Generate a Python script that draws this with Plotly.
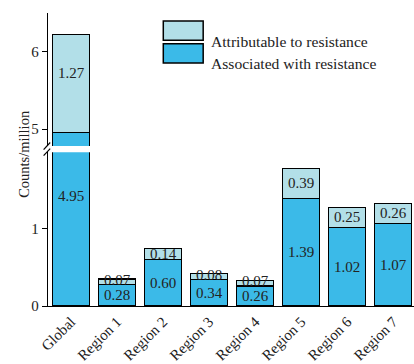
import plotly.graph_objects as go

categories = ["Global", "Region 1", "Region 2", "Region 3", "Region 4", "Region 5", "Region 6", "Region 7"]
associated = [4.95, 0.28, 0.60, 0.34, 0.26, 1.39, 1.02, 1.07]
attributable = [1.27, 0.07, 0.14, 0.08, 0.07, 0.39, 0.25, 0.26]
series_names = ["Attributable to resistance", "Associated with resistance"]

C_ATTR = "#B2DFE8"
C_ASSOC = "#3BBAE8"
FONT = "Liberation Serif"
TXT = "#222222"

LOW_RANGE = [0, 1.99]
UP_RANGE = [4.78, 6.5]
LOW_DOM = [0, 0.525]
UP_DOM = [0.546, 1]

fig = go.Figure()
line = dict(color="black", width=1.2)
for yax in ["y", "y2"]:
    fig.add_trace(go.Bar(x=categories, y=associated, name=series_names[1], yaxis=yax,
                         marker=dict(color=C_ASSOC, line=line), width=0.8, showlegend=False,
                         hoverinfo="skip"))
    fig.add_trace(go.Bar(x=categories, y=attributable, name=series_names[0], yaxis=yax,
                         marker=dict(color=C_ATTR, line=line), width=0.8, showlegend=False,
                         hoverinfo="skip"))

annotations = []
for i, c in enumerate(categories):
    a, b = associated[i], attributable[i]
    if a > LOW_RANGE[1]:
        annotations.append(dict(x=c, y=LOW_RANGE[1] * 0.715, yref="y", text=f"{a:.2f}", showarrow=False))
        annotations.append(dict(x=c, y=a + b / 2, yref="y2", text=f"{b:.2f}", showarrow=False, yshift=11))
    else:
        annotations.append(dict(x=c, y=a / 2, yref="y", text=f"{a:.2f}", showarrow=False))
        annotations.append(dict(x=c, y=a + b / 2, yref="y", text=f"{b:.2f}", showarrow=False,
                                yshift=2 if b < 0.1 else 0))
for an in annotations:
    an["xref"] = "x"
    an["font"] = dict(family=FONT, size=15, color=TXT)

annotations.append(dict(x=-0.095, y=0.52, xref="paper", yref="paper", text="Counts/million",
                        textangle=-90, showarrow=False, font=dict(family=FONT, size=14.5, color=TXT)))

shapes = []
leg_items = [(series_names[0], C_ATTR, 0.94), (series_names[1], C_ASSOC, 0.862)]
for name, col, yc in leg_items:
    shapes.append(dict(type="rect", xref="paper", yref="paper", x0=0.315, x1=0.424,
                       y0=yc - 0.033, y1=yc + 0.033, fillcolor=col, line=dict(color="black", width=1.5)))
    annotations.append(dict(x=0.441, y=yc, xref="paper", yref="paper", text=name, showarrow=False,
                            xanchor="left", font=dict(family=FONT, size=15.6, color=TXT)))

for y0 in [UP_DOM[0], LOW_DOM[1]]:
    shapes.append(dict(type="line", xref="paper", yref="paper", x0=-0.012, x1=0.006,
                       y0=y0 - 0.012, y1=y0 + 0.012, line=dict(color="black", width=1.2)))

fig.update_layout(
    width=414, height=364,
    margin=dict(l=48, r=0, t=13, b=56),
    barmode="stack",
    plot_bgcolor="white", paper_bgcolor="white",
    font=dict(family=FONT, size=14, color=TXT),
    xaxis=dict(range=[-0.5, 7.45], showline=True, linecolor="black", linewidth=1.3,
               ticks="", tickangle=-45, tickfont=dict(family=FONT, size=15, color=TXT),
               showgrid=False, zeroline=False, anchor="y"),
    yaxis=dict(domain=LOW_DOM, range=LOW_RANGE, tickvals=[0, 1], showline=True, linecolor="black",
               linewidth=1.3, ticks="outside", ticklen=5, tickcolor="black", showgrid=False,
               zeroline=False, tickfont=dict(family=FONT, size=15, color=TXT)),
    yaxis2=dict(domain=UP_DOM, range=UP_RANGE, tickvals=[5, 6], showline=True, linecolor="black",
                linewidth=1.3, ticks="outside", ticklen=5, tickcolor="black", showgrid=False,
                zeroline=False, anchor="x", tickfont=dict(family=FONT, size=15, color=TXT)),
    annotations=annotations,
    shapes=shapes,
    showlegend=False,
)

fig.write_html("out.html", config={"displayModeBar": False},
               post_script="document.body.style.margin='0';document.body.style.overflow='hidden';")
